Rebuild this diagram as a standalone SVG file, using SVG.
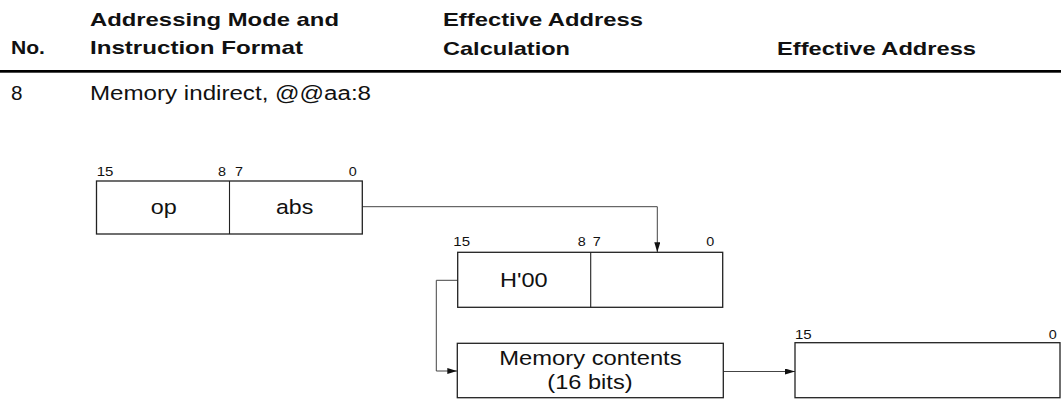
<svg xmlns="http://www.w3.org/2000/svg" width="1061" height="414" viewBox="0 0 1061 414">
<style>
text{font-family:"Liberation Sans",Arial,sans-serif;fill:#111}
.h{font-weight:bold;font-size:18.5px}
.r{font-size:19.5px}
.b{font-size:20.5px}
.bit{font-size:13px}
.box{fill:#fff;stroke:#222;stroke-width:1.3}
.div{stroke:#222;stroke-width:1.1}
.con{fill:none;stroke:#444;stroke-width:1}
</style>
<defs>
<marker id="ah" markerUnits="userSpaceOnUse" markerWidth="10" markerHeight="6" refX="10" refY="3" orient="auto">
<path d="M0,0 L10,3 L0,6 z" fill="#111"/>
</marker>
</defs>
<g id="header">
<text class="h" x="11" y="54" textLength="34" lengthAdjust="spacingAndGlyphs">No.</text>
<text class="h" x="90" y="26" textLength="249" lengthAdjust="spacingAndGlyphs">Addressing Mode and</text>
<text class="h" x="90" y="54" textLength="213" lengthAdjust="spacingAndGlyphs">Instruction Format</text>
<text class="h" x="443" y="26" textLength="200" lengthAdjust="spacingAndGlyphs">Effective Address</text>
<text class="h" x="443" y="54.5" textLength="127" lengthAdjust="spacingAndGlyphs">Calculation</text>
<text class="h" x="777" y="54.5" textLength="199" lengthAdjust="spacingAndGlyphs">Effective Address</text>
<rect x="0" y="70" width="1061" height="2.7" fill="#000"/>
<text class="r" x="11" y="100" textLength="11.5" lengthAdjust="spacingAndGlyphs">8</text>
<text class="r" x="90" y="100" textLength="281" lengthAdjust="spacingAndGlyphs">Memory indirect, @@aa:8</text>
</g>
<g id="connectors">
<path class="con" d="M362,206.7 H657.3 V252.3" marker-end="url(#ah)"/>
<path class="con" d="M457.7,280.3 H436.3 V371 H457.3" marker-end="url(#ah)"/>
<path class="con" d="M723.3,371.5 H795" marker-end="url(#ah)"/>
</g>
<g id="instruction">
<rect class="box" x="96.5" y="181" width="265.8" height="53"/>
<line class="div" x1="229.5" y1="181" x2="229.5" y2="234"/>
<text class="bit" x="96.7" y="176" textLength="16.7" lengthAdjust="spacingAndGlyphs">15</text>
<text class="bit" x="218" y="176" textLength="8" lengthAdjust="spacingAndGlyphs">8</text>
<text class="bit" x="235" y="176" textLength="8" lengthAdjust="spacingAndGlyphs">7</text>
<text class="bit" x="348.7" y="176" textLength="8" lengthAdjust="spacingAndGlyphs">0</text>
<text class="b" x="150.7" y="214" textLength="26" lengthAdjust="spacingAndGlyphs">op</text>
<text class="b" x="276" y="214" textLength="37.3" lengthAdjust="spacingAndGlyphs">abs</text>
</g>
<g id="address-reg">
<rect class="box" x="457.7" y="252.3" width="265" height="55"/>
<line class="div" x1="590.7" y1="252.3" x2="590.7" y2="307.3"/>
<text class="bit" x="453.3" y="246" textLength="16.7" lengthAdjust="spacingAndGlyphs">15</text>
<text class="bit" x="577.7" y="246" textLength="8" lengthAdjust="spacingAndGlyphs">8</text>
<text class="bit" x="592.7" y="246" textLength="8" lengthAdjust="spacingAndGlyphs">7</text>
<text class="bit" x="706.3" y="246" textLength="8" lengthAdjust="spacingAndGlyphs">0</text>
<text class="b" x="500" y="286.7" textLength="47.7" lengthAdjust="spacingAndGlyphs">H'00</text>
</g>
<g id="memory">
<rect class="box" x="457.3" y="343.3" width="266" height="54.4"/>
<text class="b" x="499.3" y="365" textLength="182.3" lengthAdjust="spacingAndGlyphs">Memory contents</text>
<text class="b" x="547.3" y="389" textLength="85.3" lengthAdjust="spacingAndGlyphs">(16 bits)</text>
</g>
<g id="effective">
<rect class="box" x="795" y="342.7" width="265" height="55"/>
<text class="bit" x="795" y="339.3" textLength="16.7" lengthAdjust="spacingAndGlyphs">15</text>
<text class="bit" x="1048.7" y="339.3" textLength="8" lengthAdjust="spacingAndGlyphs">0</text>
</g>
</svg>
